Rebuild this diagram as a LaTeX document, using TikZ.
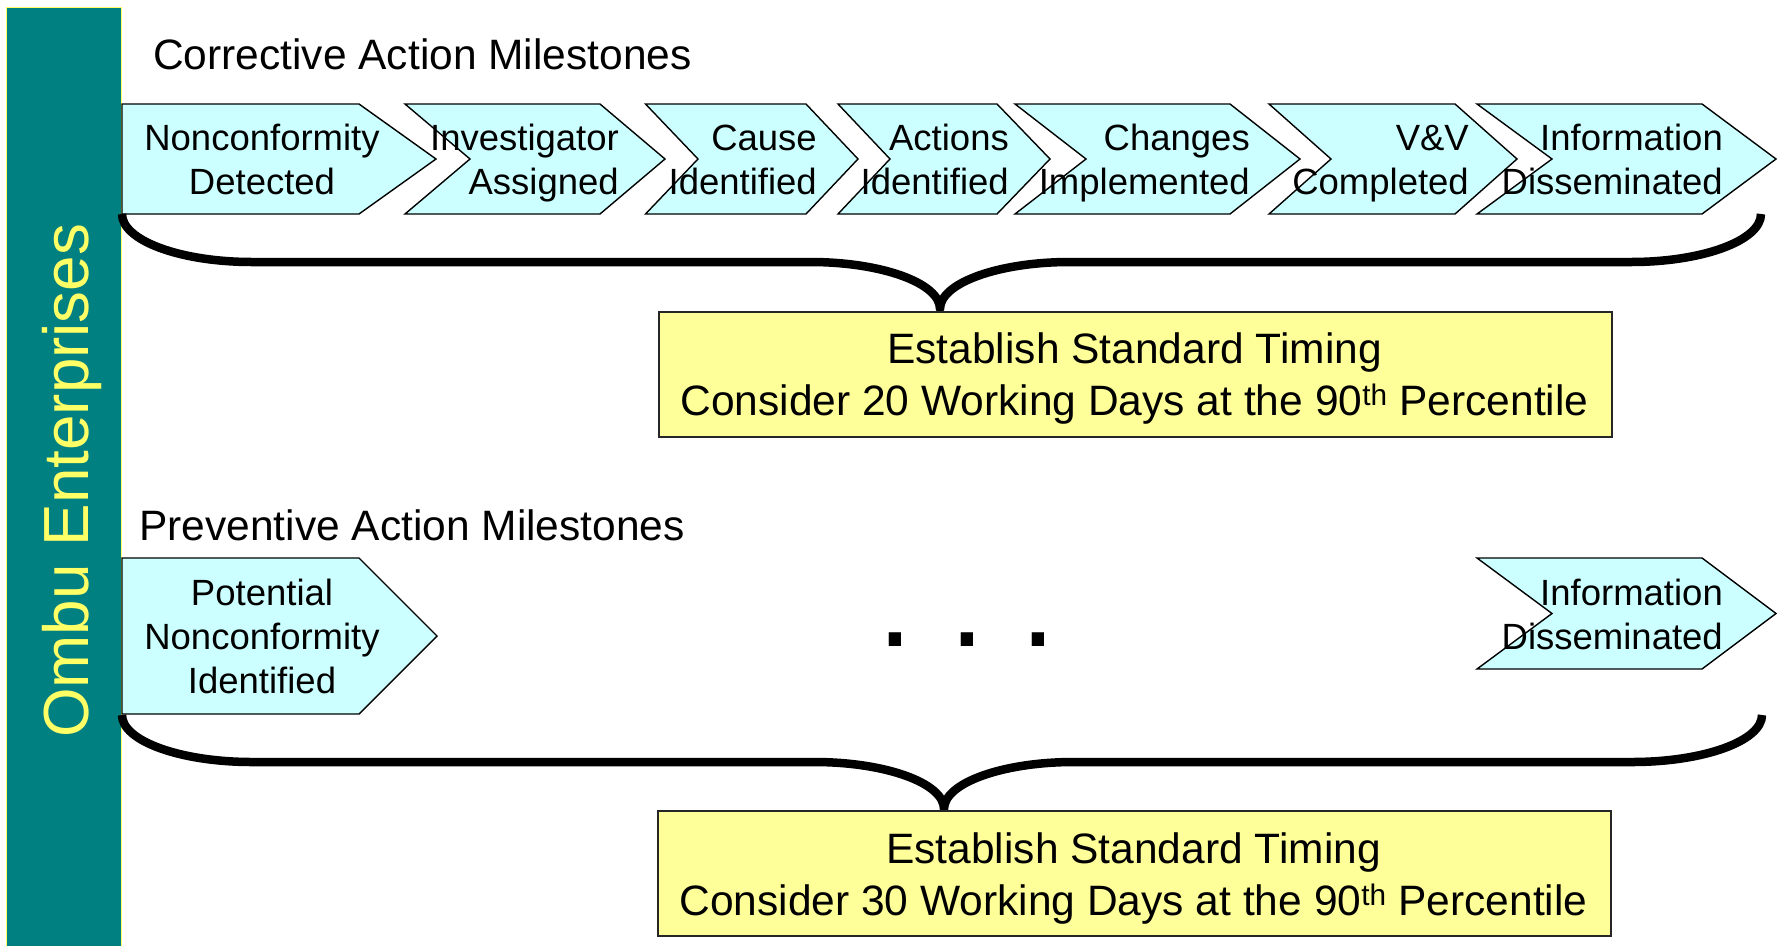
\documentclass[tikz,border=0pt]{standalone}
\usepackage{fontspec}
\setmainfont{Liberation Sans}

\definecolor{barteal}{HTML}{008080}
\definecolor{baryellow}{HTML}{FFFF66}
\definecolor{chevfill}{HTML}{CCFFFF}
\definecolor{boxfill}{HTML}{FFFF99}

% stacked lines whose baseline is the first line
\newcommand\mlines[2]{\begin{tabular}[t]{@{}#1@{}}#2\end{tabular}}

% milestone chevron: L = left x, N = notch x, S = shoulder x, P = point x, top y, bottom y
\newcommand\milestone[6]{%
  \path[chev] (#1,#5) -- (#3,#5) -- (#4,{(#5+#6)/2}) -- (#3,#6) -- (#1,#6)
    -- (#2,{(#5+#6)/2}) -- cycle;}

% curly brace: left x, right x, tip x, end y, bar y, tip y
\newcommand\curlybrace[6]{%
  \draw[bracket] (#1,#4) .. controls (#1,{#4+0.5523*(#5-#4)}) and ({#1+58.2},#5) .. ({#1+130},#5)
    -- ({#3-130},#5) .. controls ({#3-58.2},#5) and (#3,{#6-0.5523*(#6-#5)}) .. (#3,#6)
    .. controls (#3,{#6-0.5523*(#6-#5)}) and ({#3+58.2},#5) .. ({#3+130},#5)
    -- ({#2-130},#5) .. controls ({#2-58.2},#5) and (#2,{#4+0.5523*(#5-#4)}) .. (#2,#4);}

\tikzset{
  chev/.style={draw=black, line width=1.4pt, fill=chevfill, line join=miter},
  chevtext/.style={inner sep=0pt, font=\fontsize{36.5}{44}\selectfont},
  titletext/.style={inner sep=0pt, anchor=base west, font=\fontsize{42.5}{50}\selectfont},
  timingbox/.style={draw=black!85, line width=2pt, fill=boxfill, inner sep=0pt},
  timingtext/.style={inner sep=0pt, anchor=base, font=\fontsize{42.5}{52}\selectfont},
  bracket/.style={line width=8.5pt, line cap=butt, line join=round},
}

\begin{document}
\begin{tikzpicture}[x=1pt, y=-1pt]
  \useasboundingbox (0,0) rectangle (1779,945);
  \fill[white] (0,0) rectangle (1779,945);

  % side bar
  \filldraw[fill=barteal, draw=baryellow, line width=0.8pt] (6,7) rectangle (121,946);
  \node[rotate=90, anchor=base west, inner sep=0pt, text=baryellow,
        font=\fontsize{63.8}{64}\selectfont] (ombu) at (88,738) {Ombu Enterprises};

  % corrective action row
  \node[titletext] (corrtitle) at (153,69) {Corrective Action Milestones};

  \milestone{122}{122}{359}{436}{104}{214}
  \milestone{405}{470}{600}{665}{104}{214}
  \milestone{645.5}{698}{806}{858}{104}{214}
  \milestone{838}{890}{997}{1050}{104}{214}
  \milestone{1015}{1086}{1230}{1300}{104}{214}
  \milestone{1269}{1331}{1455}{1517}{104}{214}
  \milestone{1477}{1552}{1702}{1776}{104}{214}

  \node[chevtext, anchor=base] (c1) at (262,150) {\mlines{c}{Nonconformity\\Detected}};
  \node[chevtext, anchor=base east] (c2) at (619,150) {\mlines{r}{Investigator\\Assigned}};
  \node[chevtext, anchor=base east] (c3) at (817,150) {\mlines{r}{Cause\\Identified}};
  \node[chevtext, anchor=base east] (c4) at (1009,150) {\mlines{r}{Actions\\Identified}};
  \node[chevtext, anchor=base east] (c5) at (1250,150) {\mlines{r}{Changes\\Implemented}};
  \node[chevtext, anchor=base east] (c6) at (1469,150) {\mlines{r}{V\&V\\Completed}};
  \node[chevtext, anchor=base east] (c7) at (1723,150) {\mlines{r}{Information\\Disseminated}};

  \curlybrace{122}{1761}{940}{214}{262}{309}

  \node[timingbox, anchor=north west, minimum width=953pt, minimum height=125pt]
    (timing1) at (658,311) {};
  \node[timingtext] (timing1text) at (1134.5,363)
    {\mlines{c}{Establish Standard Timing\\Consider 20 Working Days at the 90\textsuperscript{th} Percentile}};

  % preventive action row
  \node[titletext] (prevtitle) at (139,540) {Preventive Action Milestones};

  \milestone{122}{122}{359}{437}{558}{714}
  \milestone{1477}{1552}{1702}{1776}{558}{669}

  \node[chevtext, anchor=base] (p1) at (262,605)
    {\mlines{c}{Potential\\Nonconformity\\Identified}};
  \node[chevtext, anchor=base east] (p2) at (1723,605.5) {\mlines{r}{Information\\Disseminated}};

  \node[inner sep=0pt, anchor=base, font=\fontsize{128.6}{130}\selectfont\frenchspacing]
    (dots) at (967,646.7) {. . .};

  \curlybrace{122}{1762}{944}{715}{762}{809}

  \node[timingbox, anchor=north west, minimum width=953pt, minimum height=125pt]
    (timing2) at (657,810) {};
  \node[timingtext] (timing2text) at (1133.5,863)
    {\mlines{c}{Establish Standard Timing\\Consider 30 Working Days at the 90\textsuperscript{th} Percentile}};
\end{tikzpicture}
\end{document}
